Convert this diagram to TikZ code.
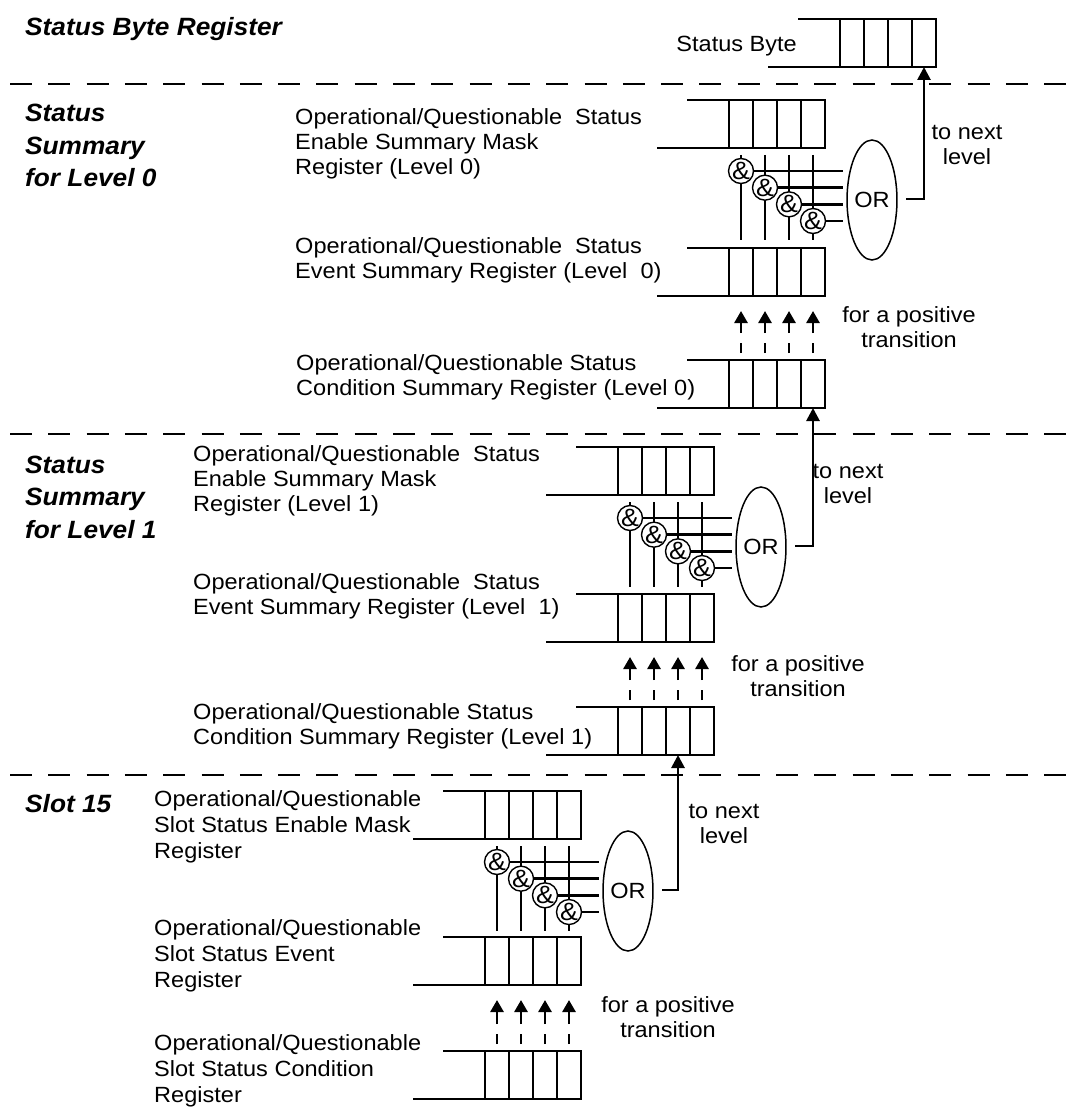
\documentclass[tikz,border=0pt]{standalone}
\usepackage{fontspec}
\setmainfont[FakeStretch=1.07]{Liberation Sans}
\newfontfamily\titlefam[FakeStretch=1.05]{Liberation Sans}
\usetikzlibrary{arrows.meta,shapes.geometric}

\newcommand{\lblfont}{\fontsize{22}{25}\selectfont}
\newcommand{\slotfont}{\fontsize{22}{26}\selectfont}
\newcommand{\ttlfont}{\titlefam\bfseries\itshape\fontsize{25}{32.5}\selectfont}

\tikzset{
  reg/.style={line width=2.9pt},
  conn/.style={line width=2.7pt},
  sep/.style={line width=2.8pt, dash pattern=on 22pt off 16.3pt},
  andg/.style={circle, draw, line width=1.4pt, fill=white, inner sep=0pt,
    minimum size=25pt, font=\fontsize{25}{25}\selectfont},
  orgate/.style={ellipse, draw, line width=1.5pt, minimum width=48pt,
    minimum height=120pt, inner sep=0pt, font=\lblfont},
  lbl/.style={font=\lblfont, align=left, anchor=base west, inner sep=0pt},
  slbl/.style={font=\slotfont, align=left, anchor=base west, inner sep=0pt},
  ttl/.style={font=\ttlfont, align=left, anchor=base west, inner sep=0pt},
  note/.style={font=\lblfont, align=center, anchor=base, inner sep=0pt},
  nextarrow/.style={conn, -{Triangle[length=13pt,width=13pt]}},
  trans/.style={line width=2.7pt, dash pattern=on 10pt off 10pt on 40pt off 0pt,
    -{Triangle[length=12pt,width=13pt]}}
}

% register: #1 name, #2 x of first cell, #3 top y
\newcommand{\regbox}[3]{%
  \draw[reg] (#2-42,#3) -- (#2,#3);
  \draw[reg] (#2-72,#3+48) -- (#2,#3+48);
  \draw[reg] (#2,#3) rectangle (#2+96,#3+48);
  \foreach \i in {1,2,3}{\draw[reg] (#2+24*\i,#3) -- (#2+24*\i,#3+48);}
  \foreach \i in {1,...,4}{%
    \coordinate (#1-t\i) at (#2+24*\i-12,#3);
    \coordinate (#1-b\i) at (#2+24*\i-12,#3+48);}
}

% gate bank: #1 name, #2 x of first cell, #3 top y of mask register, #4 target
\newcommand{\gatebank}[4]{%
  \foreach \i in {0,...,3}{%
    \pgfmathsetmacro{\cx}{#2+12+24*\i}
    \pgfmathsetmacro{\cy}{#3+71+16.67*\i}
    \draw[conn] (\cx,#3+55) -- (\cx,#3+140);
    \draw[conn] (\cx,\cy) -- (#2+114,\cy);}
  \foreach \i in {0,...,3}{%
    \pgfmathsetmacro{\cx}{#2+12+24*\i}
    \pgfmathsetmacro{\cy}{#3+71+16.67*\i}
    \node[andg] (#1-and\i) at (\cx,\cy) {\&};}
  \node[orgate] (#1-or) at (#2+143,#3+100) {OR};
  \coordinate (#1-out) at (#2+177,#3+99);
  \draw[nextarrow] (#1-out) -| (#4);
}

% transition arrows: #1 condition register, #2 event register
\newcommand{\transarrows}[2]{%
  \foreach \i in {1,...,4}{\draw[trans] ([yshift=7pt]#1-t\i) -- ([yshift=-15pt]#2-b\i);}
}

\begin{document}
\begin{tikzpicture}[x=1pt,y=-1pt]
\useasboundingbox (0,0) rectangle (1066,1107);

% separators
\draw[sep] (10,84) -- (1066,84);
\draw[sep] (10,434) -- (1066,434);
\draw[sep] (10,775) -- (1066,775);

% titles (anchor = baseline of last line)
\node[ttl] (t0) at (25,36) {Status Byte Register};
\node[ttl] (t1) at (25,187) {Status\\Summary\\for Level 0};
\node[ttl] (t2) at (25,538) {Status\\Summary\\for Level 1};
\node[ttl] (t3) at (25,812) {Slot 15};

% status byte
\regbox{sb}{840}{19}
\node[font=\lblfont, anchor=base east, inner sep=0pt] (sblbl) at (797,52) {Status Byte};

% level 0
\regbox{am}{729}{100}
\regbox{ae}{729}{248}
\regbox{ac}{729}{360}
\node[lbl] (aml) at (295,175) {Operational/Questionable~ Status\\Enable Summary Mask\\Register (Level 0)};
\node[lbl] (ael) at (295,278) {Operational/Questionable~ Status\\Event Summary Register (Level~ 0)};
\node[lbl] (acl) at (296,395) {Operational/Questionable Status\\Condition Summary Register (Level 0)};
\gatebank{ga}{729}{100}{sb-b4}
\transarrows{ac}{ae}
\node[note] (an) at (967,165) {to next\\level};
\node[note] (ap) at (909,347) {for a positive\\transition};

% level 1
\regbox{bm}{618}{447}
\regbox{be}{618}{594}
\regbox{bc}{618}{707}
\node[lbl] (bml) at (193,511) {Operational/Questionable~ Status\\Enable Summary Mask\\Register (Level 1)};
\node[lbl] (bel) at (193,614) {Operational/Questionable~ Status\\Event Summary Register (Level~ 1)};
\node[lbl] (bcl) at (193,744) {Operational/Questionable Status\\Condition Summary Register (Level 1)};
\gatebank{gb}{618}{447}{ac-b4}
\transarrows{bc}{be}
\node[note] (bn) at (848,503) {to next\\level};
\node[note] (bp) at (798,696) {for a positive\\transition};

% slot 15
\regbox{cm}{485}{791}
\regbox{ce}{485}{937}
\regbox{cc}{485}{1051}
\node[slbl] (cml) at (154,858) {Operational/Questionable\\Slot Status Enable Mask\\Register};
\node[slbl] (cel) at (154,987) {Operational/Questionable\\Slot Status Event\\Register};
\node[slbl] (ccl) at (154,1102) {Operational/Questionable\\Slot Status Condition\\Register};
\gatebank{gc}{485}{791}{bc-b3}
\transarrows{cc}{ce}
\node[note] (cn) at (724,843) {to next\\level};
\node[note] (cp) at (668,1037) {for a positive\\transition};
\end{tikzpicture}
\end{document}
